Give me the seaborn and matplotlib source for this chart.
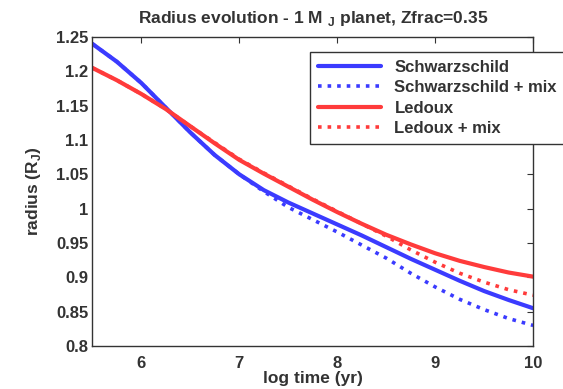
import matplotlib
matplotlib.use("Agg")
import matplotlib.pyplot as plt
import seaborn as sns
import pandas as pd

# log time grid (yr) and radius values (R_J)
log_time = [5.5, 5.75, 6.0, 6.25, 6.5, 6.75, 7.0, 7.25, 7.5, 7.75,
            8.0, 8.25, 8.5, 8.75, 9.0, 9.25, 9.5, 9.75, 10.0]
schwarzschild = [1.240, 1.214, 1.183, 1.147, 1.111, 1.078, 1.050, 1.027, 1.009, 0.993,
                 0.977, 0.961, 0.944, 0.927, 0.911, 0.895, 0.880, 0.867, 0.855]
schwarzschild_mix = [1.240, 1.214, 1.183, 1.147, 1.111, 1.078, 1.050, 1.025, 1.002, 0.984,
                     0.966, 0.947, 0.928, 0.906, 0.886, 0.868, 0.853, 0.840, 0.830]
ledoux = [1.205, 1.187, 1.167, 1.145, 1.120, 1.095, 1.071, 1.051, 1.032, 1.013,
          0.995, 0.978, 0.962, 0.948, 0.935, 0.924, 0.915, 0.907, 0.901]
ledoux_mix = [1.205, 1.187, 1.167, 1.145, 1.120, 1.096, 1.072, 1.052, 1.033, 1.014,
              0.996, 0.978, 0.960, 0.940, 0.922, 0.906, 0.893, 0.882, 0.874]

series = ["Schwarzschild", "Schwarzschild + mix", "Ledoux", "Ledoux + mix"]
values = [schwarzschild, schwarzschild_mix, ledoux, ledoux_mix]
colors = ["#3b3bff", "#3b3bff", "#ff3b3b", "#ff3b3b"]
styles = ["-", ":", "-", ":"]

sns.set_style("white")
plt.rcParams["font.family"] = ["Liberation Sans", "DejaVu Sans"]
plt.rcParams["font.weight"] = "bold"
plt.rcParams["mathtext.fontset"] = "custom"
plt.rcParams["mathtext.bf"] = "Liberation Sans:bold"
plt.rcParams["mathtext.rm"] = "Liberation Sans:bold"

fig = plt.figure(figsize=(5.63, 3.89), dpi=100)
ax = fig.add_axes([0.164, 0.1105, 0.783, 0.7945])

for name, vals, c, ls in zip(series, values, colors, styles):
    df = pd.DataFrame({"t": log_time, "r": vals})
    sns.lineplot(data=df, x="t", y="r", ax=ax, color=c, linestyle=ls,
                 linewidth=3 if ls == "-" else 2.6, label=name)

ax.set_xlim(5.5, 10)
ax.set_ylim(0.8, 1.25)
ax.set_xticks([6, 7, 8, 9, 10])
yt = [0.8, 0.85, 0.9, 0.95, 1.0, 1.05, 1.1, 1.15, 1.2, 1.25]
ax.set_yticks(yt)
ax.set_yticklabels(["%g" % v for v in yt])
ax.tick_params(direction="in", length=4, top=True, right=True, labelsize=12,
               colors="#333333")
ax.tick_params(axis="x", pad=7)
ax.tick_params(axis="y", pad=3)
for lab in ax.get_xticklabels() + ax.get_yticklabels():
    lab.set_fontweight("bold")
for s in ax.spines.values():
    s.set_color("#333333")
    s.set_linewidth(1)

ax.set_xlabel("log time (yr)", fontsize=12.5, fontweight="bold", color="#333333", labelpad=0)
ax.set_ylabel(r"radius (R$_\mathbf{J}$)", fontsize=12.5, fontweight="bold", color="#333333", labelpad=9)
ax.set_title(r"Radius evolution - 1 M $_\mathbf{J}$ planet, Zfrac=0.35", fontsize=12.5,
             fontweight="bold", color="#333333", pad=10)

leg = ax.legend(loc="upper left", bbox_to_anchor=(0.551, 0.866), bbox_transform=fig.transFigure,
                fancybox=False, framealpha=1, edgecolor="#333333", prop={"weight": "bold", "size": 12},
                handlelength=3.8, borderpad=0.45, labelspacing=0.33, handletextpad=0.8,
                borderaxespad=0)
leg.get_frame().set_linewidth(1)
for t in leg.get_texts():
    t.set_color("#333333")

fig.savefig("out.png", dpi=100)
